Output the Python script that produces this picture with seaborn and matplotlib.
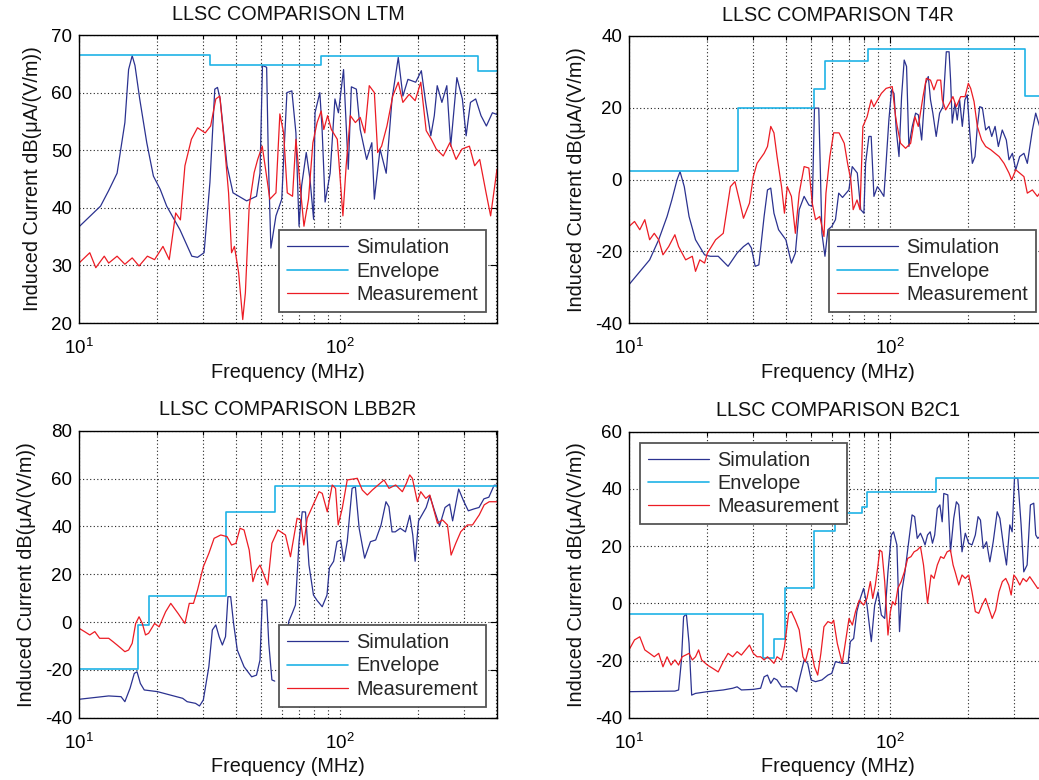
import matplotlib
matplotlib.use("Agg")
import matplotlib.pyplot as plt
import seaborn as sns
from matplotlib.ticker import FixedLocator, FixedFormatter, NullFormatter

# ---------------- data ----------------
# LTM
ltm_sim_f = [10, 11, 12.1, 13, 14, 15, 15.5, 16, 16.4, 17.1,
             18.2, 19.3, 20.5, 21.7, 24.4, 27.1, 28.5, 30.2, 31.8, 33.2,
             34, 34.8, 37, 39, 44, 48, 49.5, 50.6, 52.5, 53.3,
             54.5, 57, 60, 61, 62.8, 65.6, 68, 69.9, 71.5, 74.5,
             77, 79.5, 80.5, 84, 85.7, 88, 92, 96, 99, 103.6,
             108, 111, 116, 120, 127, 133, 136, 143, 151, 159,
             168, 175, 183, 196, 206, 214, 224, 231, 237, 247,
             258, 267, 282, 296, 306, 318, 333, 349, 366, 386,
             402]
ltm_sim_v = [36.7, 38.5, 40.3, 43, 46, 54.8, 64, 66.4, 64.7, 58.9,
             51.3, 45.5, 43.2, 40.3, 36.2, 31.6, 31.4, 32.2, 44.4, 60.6,
             60.9, 58.9, 47.3, 42.6, 41.2, 42, 46, 64.7, 64.4, 48.4,
             33, 38.6, 41.5, 48.4, 60, 60.3, 53, 36.8, 43.8, 49.6,
             45, 38, 56.5, 60, 53.6, 41, 46, 58.9, 56.5, 64,
             46.7, 61, 60.6, 53.6, 48.4, 51.3, 41.5, 50.2, 46, 58.9,
             66.1, 59.4, 62.3, 61.8, 63.8, 58.3, 52.5, 56, 61.2, 58.3,
             61.2, 50.7, 62.6, 58.9, 52.5, 58.3, 58.9, 56, 54.2, 56.5,
             56.2]
ltm_env_f = [10, 31.7, 85, 339, 402]
ltm_env_v = [66.5, 64.8, 66.3, 63.7, 63.7]
ltm_meas_f = [10, 11, 11.6, 12.5, 13, 14, 15, 16, 17, 18.3,
              19.5, 21, 22.2, 23.5, 24.5, 25.5, 27, 28.5, 30.5, 32,
              33.5, 34.7, 36, 37.5, 38.5, 39.5, 41, 42.5, 43.5, 45,
              47, 48.5, 50.5, 52, 54, 57, 59, 61, 63, 66,
              68, 71, 73, 76, 79, 82, 85, 87, 90, 93,
              98, 103, 106, 110, 115, 120, 125, 130, 136, 140,
              145, 152, 160, 168, 175, 185, 195, 205, 215, 225,
              235, 250, 265, 280, 295, 315, 330, 345, 365, 380,
              402]
ltm_meas_v = [30.4, 32.2, 29.6, 31.6, 30.4, 31.6, 30.2, 31.3, 29.9, 31.6,
              31, 33.3, 31, 39.1, 37.9, 47.3, 51.9, 53.9, 53, 54.2,
              58.9, 59.4, 51.9, 42.6, 32.2, 33.3, 28.7, 20.6, 25.2, 40.3,
              46.1, 48.4, 50.7, 46.7, 41.5, 42.6, 56.3, 53, 42.6, 42,
              51.9, 42.6, 36.8, 41.5, 51.3, 54.8, 56.8, 53.6, 56, 53.6,
              51.9, 38.6, 47.3, 56, 54.8, 55.7, 53, 61.2, 60, 49.6,
              50.7, 54.2, 59.4, 61.8, 58.3, 59.7, 58.6, 61.8, 53.4, 51.9,
              50.2, 49, 51.3, 48.4, 50.2, 50.7, 47.3, 48.4, 42.6, 38.6,
              46.7]

# T4R
t4r_sim_f = [10, 12, 13, 14, 14.6, 15.3, 15.7, 16.3, 17, 18,
             19.5, 20.5, 22, 24, 26, 27.5, 28.7, 29.5, 30.5, 31.5,
             33, 34, 35, 36, 37.5, 40, 42, 43.5, 45, 47,
             49, 50.5, 51.5, 53.5, 55, 56.5, 58, 60, 62, 63.8,
             66, 69.8, 71.9, 75.2, 77.5, 79.7, 80.9, 83.3, 85, 87.1,
             89.8, 92, 95.1, 96.6, 99.4, 101.8, 104, 106.1, 108.7, 111.2,
             113.8, 116.2, 118.6, 122.2, 125.9, 129, 132.8, 137.5, 140.8, 143.6,
             146.6, 151, 155.6, 160.3, 165.1, 169.2, 171.5, 174, 178.2, 181.9,
             185.7, 190.2, 194.6, 198.7, 202.8, 207.8, 212.8, 217.2, 221.8, 227.1,
             233.8, 240.9, 246.7, 254.1, 261.5, 270.7, 280.6, 287.3, 296.1, 305,
             315.8, 327.9, 337.8, 353.3, 363.8, 376.7, 390, 402]
t4r_sim_v = [-29.3, -22.4, -16.8, -10.3, -5.7, 0, 2.2, -2, -10.3, -16.8,
             -21, -21.4, -21.4, -24.2, -20.5, -18.7, -17.7, -19.1, -24.2, -23.8,
             -10.3, -2.9, -2.4, -9.4, -14, -16.8, -23.3, -20.5, -8.4, -4.7,
             -7.1, -7.5, 19.9, 19.9, -15, -21.4, -14, -13.1, -11.2, -3.8,
             -5, -2.9, 3.6, 1.8, -8.4, -9.4, 4.5, 12, 12, -4.7,
             -2, -3, -4.7, 2.7, 16.6, 25, 24, 13.8, 6.4, 23.1,
             33.3, 31.5, 9.2, 14.8, 18.5, 18, 11, 26.8, 28.7, 22.2,
             18.5, 12, 18.5, 20.3, 35.6, 35.6, 27.7, 15.7, 21.3, 16.6,
             22.2, 14.8, 22.2, 23.6, 13.8, 4.5, 6.4, 14.8, 20.3, 20,
             13.8, 14.8, 12, 14.8, 9.2, 13.8, 11, 5.5, 7.3, 2.7,
             6.4, 7.3, 4.5, 13.8, 18.5, 14.8, 10, 13]
t4r_env_f = [10, 26.1, 51.2, 56.6, 83, 331, 402]
t4r_env_v = [2.5, 20, 25.1, 33.1, 36.3, 23.3, 23.3]
t4r_meas_f = [10, 10.5, 11, 11.5, 12, 12.5, 13, 13.5, 14.2, 15,
              15.5, 16.5, 17.5, 18, 18.7, 19.5, 20, 21.5, 23, 24.5,
              25.5, 26.5, 27.5, 29, 30, 31, 33, 34, 35, 36,
              37, 38.5, 39.5, 40.5, 42, 43.5, 45, 47, 49, 50.5,
              52, 54, 56, 57, 59, 61, 64, 67, 69, 71,
              72.5, 75, 77, 79, 82, 85, 87, 90, 93, 97,
              102.4, 105.5, 107, 110.2, 115.2, 120.5, 125.1, 128.9, 134.4, 138.4,
              143.6, 148, 152.5, 157.1, 159.4, 164.1, 170, 175, 180.3, 187.5,
              194.8, 200.6, 204.8, 211, 217.2, 225.6, 233.8, 244.5, 254.1, 263.2,
              275, 287.3, 294.3, 305, 315.8, 327.9, 337.8, 353.3, 369.2, 376.7,
              402]
t4r_meas_v = [-13.1, -11.7, -14, -11.2, -16.8, -15, -16.8, -21, -18.7, -15.4,
              -18.7, -22.4, -21.4, -25.6, -22.4, -23.3, -20.5, -16.8, -15, -2,
              -0.6, -5.7, -10.8, -6.6, 0.8, 4.5, 7.3, 9.2, 14.8, 13,
              6.4, -2, -9.4, -2, -4.7, -15, -3.8, 3.6, 3.2, -6.6,
              -11.2, -10.3, -15.9, -3.8, 6.4, 13, 13, 10.1, 4.5, -0.1,
              -8.4, -5.7, -8.4, 14.8, 17.5, 22.2, 20.3, 22.2, 24, 25.4,
              25.9, 17.5, 14.8, 10.1, 8.7, 10.1, 17.5, 14.8, 23.1, 28.2,
              27.7, 25, 27.7, 27.7, 22.2, 19.4, 21.3, 23.1, 20.3, 23.1,
              23.1, 26.8, 25.4, 21.7, 14.8, 11, 9.2, 8.3, 7.3, 6.4,
              4.5, 1.8, -0.1, 2.7, 1.8, 0.8, -3.8, -2.9, -4.7, -3.8,
              -4.5]

# LBB2R
lbb_sim_f1 = [10, 13, 14.5, 15, 15.7, 16.3, 16.7, 17.2, 17.8, 20,
              25, 26, 28, 29, 30, 31.5, 32.5, 33.5, 34.5, 35.5,
              36.5, 37.3, 38.2, 39.2, 40.5, 43, 46, 48, 49.5, 50.5,
              52.5, 53.5, 55, 56.4]
lbb_sim_v1 = [-32.3, -30.9, -31.2, -33.3, -27.7, -21.5, -20.8, -25.7, -28.4, -29.1,
              -31.9, -33.3, -34, -35.1, -32.6, -18.7, -3.3, -1.2, -6.1, -9.6,
              -6.1, 10.6, 10.6, -0.6, -11.7, -18.7, -22.9, -22.2, -15.9, 9.2,
              9.2, -8.9, -24.2, -24.7]
lbb_sim_f2 = [62, 63.8, 66, 67.7, 69.9, 71.9, 74, 76.3, 79.4, 82,
              85.8, 89.5, 91.4, 94.9, 97.8, 101, 103.9, 107, 111.7, 115,
              118.9, 124.8, 131.4, 137.6, 144.3, 150.7, 154.7, 159, 163.5, 171,
              179, 186, 191, 195, 201, 215, 222, 231.5, 242, 254,
              264.5, 271.6, 286.5, 299, 312, 328, 343, 358, 374, 392,
              402]
lbb_sim_v2 = [-15, 0.2, 4, 7.1, 33.6, 46.1, 46, 23.9, 11.3, 9,
              6.4, 11.3, 22.6, 25.4, 33.6, 34.3, 25.4, 33.6, 55.9, 56.6,
              39.2, 26.7, 33.6, 34.3, 40.6, 50.3, 48.2, 37.7, 37.7, 39.2,
              37.7, 44.6, 36.3, 25.4, 42.3, 47.9, 52.8, 46.5, 40.2, 47.9,
              49.3, 42.3, 55.6, 50.7, 46.5, 47.3, 47.9, 51.5, 52.2, 57.2,
              57.2]
lbb_env_f = [10, 16.9, 18.5, 36.5, 56.6, 402]
lbb_env_v = [-19.8, -1.25, 11, 46.1, 56.9, 56.9]
lbb_meas_f = [10, 10.5, 11, 11.5, 12, 13, 13.5, 14, 14.5, 15,
              15.5, 16, 16.5, 17, 17.5, 18, 18.5, 19.5, 20.3, 21.5,
              22.5, 24, 25.5, 26.5, 27.5, 28.5, 30, 31.5, 33, 35,
              37, 38.5, 40, 41.5, 43, 45, 46.5, 48, 49.5, 51,
              53, 55, 58, 62, 64.8, 68.7, 70.8, 72.9, 75.1, 78.6,
              83.4, 85.8, 89.7, 93.7, 96.5, 98.8, 102.4, 107, 117, 122.2,
              127.8, 133.6, 148.1, 154.8, 164.2, 174.2, 180.5, 185.9, 190.3, 198.9,
              204.9, 214.2, 222, 237.5, 248.3, 259.5, 268, 279.4, 292, 309.7,
              323.8, 343.6, 359, 375.3, 402]
lbb_meas_v = [-2.6, -4, -5.4, -4, -6.8, -6.8, -8.2, -9.6, -11, -12.4,
              -11.7, -8.9, -0.6, 2.2, -0.6, -5.4, -4.7, -0.6, -2, 4.3,
              7.8, 3.6, -0.6, 7.8, 7.8, 13.4, 23.1, 28.7, 35, 36.4,
              35.7, 32.2, 32.9, 39.2, 38.5, 30.1, 16.9, 21.7, 23.8, 20.3,
              15.5, 32.9, 38.5, 36.4, 27.3, 43.4, 42.7, 32.2, 43.4, 48.2,
              54.5, 53.8, 46.1, 57.3, 55.9, 40.6, 47.5, 59.4, 60.1, 55.2,
              53.1, 55.2, 59.4, 55.9, 57.3, 54.5, 58, 61.5, 60.1, 50.3,
              54.5, 51.7, 53.1, 41.3, 42.7, 40.6, 28, 33, 37.8, 40.6,
              40.6, 44.8, 49, 50.3, 50.3]

# B2C1
b2c_sim_f = [10, 15, 15.5, 15.9, 16.2, 16.6, 17, 17.4, 18, 20,
             23, 25, 26, 27, 30, 32, 33, 34, 35, 36,
             37, 38.5, 42, 44, 45, 47, 48.5, 50, 52, 55,
             58, 60, 62, 65.8, 69.3, 70.7, 72.8, 74.9, 77.2, 79.5,
             81.9, 85.1, 87.7, 90.3, 93, 95.8, 98.6, 101.6, 103.6, 106.7,
             109.2, 111.4, 114.6, 118, 122, 124.8, 127.7, 131.4, 134, 136.8,
             139.9, 143.2, 146.1, 149, 152.5, 156, 159.2, 161.5, 167.3, 171.3,
             176.3, 180.5, 184.3, 189.7, 195.3, 201.2, 207.2, 213.4, 218.6, 223.3,
             228.8, 235.6, 242.6, 249.9, 258.9, 265.1, 274.5, 281, 289.4, 295.4,
             301.6, 310.6, 319.8, 327.4, 337.2, 347.2, 357.6, 364, 370.4, 385,
             402]
b2c_sim_v = [-30.9, -30.7, -30.3, -19.8, -4.7, -3.75, -14, -32.1, -31.5, -30.9,
             -30.3, -29.7, -29.2, -30.3, -30.1, -29.7, -25.7, -25.1, -28, -26.2,
             -26.8, -29.2, -29.2, -30.9, -26.8, -19.8, -21, -26.8, -27.4, -26.8,
             -25.1, -24.5, -20.4, -21, -21, -13.4, -12.3, -2.9, 1.7, 5.2,
             -0.6, -13.4, -0.6, 4, -4.1, -5.3, 11, 23.9, 25, 20.4,
             -9.9, 4, 11, 20.4, 30.9, 30.3, 22.7, 24.5, 22.7, 20.4,
             23.9, 25, 21, 23.9, 33.2, 34.4, 28.5, 38.4, 37.9, 18,
             29.7, 35.5, 34.4, 18, 24.5, 21, 20.4, 23.9, 30.3, 29.1,
             19.2, 21.5, 14.5, 21.5, 32, 29.7, 19.2, 13.4, 27.4, 25,
             43.7, 43.7, 27.4, 11, 13.4, 34.4, 35, 23.9, 22.7, 24,
             24]
b2c_env_f = [10, 32.6, 36.1, 39.7, 51.5, 61.5, 78.5, 82, 151, 402]
b2c_env_v = [-3.75, -19, -12.6, 5.2, 25.4, 31.4, 33.5, 38.8, 43.9, 43.9]
b2c_meas_f = [10, 10.5, 11, 11.5, 12, 12.5, 13, 13.5, 14, 14.5,
              15, 15.5, 16, 17, 17.5, 18, 18.5, 19, 20, 21,
              22, 23, 24, 25, 26, 27, 28, 29, 30, 31,
              32, 33, 34, 35, 36, 37, 38.5, 39.5, 41, 42,
              43.5, 45, 46.5, 47.5, 49, 50, 51.5, 53, 54.5, 56,
              58, 60, 61, 63, 65.8, 69.9, 72, 74, 76.5, 79.5,
              81.9, 84.4, 86.2, 88.2, 90.3, 91.7, 93.5, 95.8, 97.2, 98.6,
              100.7, 102.7, 105.1, 107.6, 110.8, 114, 117.4, 120.8, 124.2, 127.7,
              131.4, 135, 139.9, 144.3, 148.1, 152.5, 157.1, 161.5, 166.3, 171.3,
              175.3, 178.5, 184.3, 189.7, 195.3, 201.2, 207.2, 213.4, 219.9, 226.6,
              233.5, 240.5, 247.7, 255.3, 263, 271, 279.2, 286.7, 292.9, 299.9,
              306.9, 316.1, 325.5, 335.2, 345.2, 355.5, 370.4, 385, 402]
b2c_meas_v = [-16.3, -12.8, -11.7, -16.3, -17.5, -18.7, -17.5, -22.2, -18.7, -21.6,
              -19.8, -21.6, -18.7, -17.5, -19.8, -18.7, -16.3, -19.8, -21.6, -22.8,
              -24, -20.4, -17.5, -18.7, -16.9, -18.1, -16.3, -14.6, -17.5, -18.7,
              -18.7, -19.8, -18.7, -19.8, -21, -18.7, -19.8, -15.2, -3.5, -2.9,
              -5.9, -9.3, -18.7, -20.4, -15.8, -16.3, -22.2, -25.1, -17.5, -8.2,
              -6.4, -7, -5.9, -14, -21, -5.3, -7.6, -2.9, 1.1, -0.6,
              1.7, 7.6, 1.7, 6.4, 13.4, 18.6, 18, 7.6, -1.8, -11.1,
              -2.9, 0.6, -0.6, 5.2, 7.6, 11, 15.7, 16.3, 18, 18.6,
              19.8, 13.4, 0, 9.9, 8.7, 13.4, 16.3, 15.7, 18, 18.6,
              13.4, 11, 6.4, 9.9, 8.7, 9.9, 4, -2.9, -3.5, -0.6,
              1.7, -1.8, -5.3, -2.4, 4, 7.6, 8.7, 6.4, 2.9, 9.9,
              8.7, 6.4, 8.7, 7.6, 9.3, 7.6, 5.2, 6, 4]

titles = ["LLSC COMPARISON LTM", "LLSC COMPARISON T4R",
          "LLSC COMPARISON LBB2R", "LLSC COMPARISON B2C1"]
series_names = ["Simulation", "Envelope", "Measurement"]
x_major = [10, 100]
x_major_labels = [r"$\mathregular{10^{1}}$", r"$\mathregular{10^{2}}$"]
x_minor = [20, 30, 40, 50, 60, 70, 80, 90, 200, 300, 400]

# ---------------- style ----------------
sns.set_theme(style="white")
plt.rcParams["font.family"] = ["Liberation Sans", "DejaVu Sans"]
plt.rcParams["axes.unicode_minus"] = False
plt.rcParams["mathtext.fontset"] = "custom"
plt.rcParams["mathtext.rm"] = "Liberation Sans"

SIM_C = "#2b3290"
ENV_C = "#1fb3e6"
MEAS_C = "#ec1c24"

fig = plt.figure(figsize=(10.39, 7.80), dpi=100)

positions = [
    [79 / 1039, 1 - 323 / 780, 418 / 1039, 288 / 780],
    [629 / 1039, 1 - 323 / 780, 418 / 1039, 287 / 780],
    [79 / 1039, 1 - 717.7 / 780, 418 / 1039, 287 / 780],
    [629 / 1039, 1 - 717.7 / 780, 418 / 1039, 286 / 780],
]

panels = [
    dict(sims=[(ltm_sim_f, ltm_sim_v)], env=(ltm_env_f, ltm_env_v),
         meas=(ltm_meas_f, ltm_meas_v), ylim=(20, 70),
         yticks=[20, 30, 40, 50, 60, 70], loc="lower right"),
    dict(sims=[(t4r_sim_f, t4r_sim_v)], env=(t4r_env_f, t4r_env_v),
         meas=(t4r_meas_f, t4r_meas_v), ylim=(-40, 40),
         yticks=[-40, -20, 0, 20, 40], loc="lower right"),
    dict(sims=[(lbb_sim_f1, lbb_sim_v1), (lbb_sim_f2, lbb_sim_v2)],
         env=(lbb_env_f, lbb_env_v), meas=(lbb_meas_f, lbb_meas_v),
         ylim=(-40, 80), yticks=[-40, -20, 0, 20, 40, 60, 80],
         loc="lower right"),
    dict(sims=[(b2c_sim_f, b2c_sim_v)], env=(b2c_env_f, b2c_env_v),
         meas=(b2c_meas_f, b2c_meas_v), ylim=(-40, 60),
         yticks=[-40, -20, 0, 20, 40, 60], loc="upper left"),
]

for pos, title, p in zip(positions, titles, panels):
    ax = fig.add_axes(pos)
    ax.set_xscale("log")
    ax.set_axisbelow(True)
    for i, (f, v) in enumerate(p["sims"]):
        sns.lineplot(x=f, y=v, ax=ax, color=SIM_C, lw=0.9, estimator=None,
                     sort=False, label=series_names[0] if i == 0 else "_nolegend_")
    sns.lineplot(x=p["env"][0], y=p["env"][1], ax=ax, color=ENV_C, lw=1.2,
                 estimator=None, sort=False, drawstyle="steps-post",
                 label=series_names[1])
    sns.lineplot(x=p["meas"][0], y=p["meas"][1], ax=ax, color=MEAS_C, lw=0.9,
                 estimator=None, sort=False, label=series_names[2])

    ax.set_xlim(10, 402)
    ax.set_ylim(*p["ylim"])
    ax.xaxis.set_major_locator(FixedLocator(x_major))
    ax.xaxis.set_major_formatter(FixedFormatter(x_major_labels))
    ax.xaxis.set_minor_locator(FixedLocator(x_minor))
    ax.xaxis.set_minor_formatter(NullFormatter())
    ax.set_yticks(p["yticks"])
    ax.set_yticklabels([str(t) for t in p["yticks"]])

    ax.grid(True, which="major", axis="both", color="#222222",
            linestyle=(0, (1, 2.2)), linewidth=0.8)
    ax.grid(True, which="minor", axis="x", color="#222222",
            linestyle=(0, (1, 2.2)), linewidth=0.8)
    ax.tick_params(which="both", direction="in", top=True, right=True,
                   colors="black", labelsize=13.5)
    ax.tick_params(which="major", length=5, width=0.8)
    ax.tick_params(which="minor", length=3, width=0.8)
    ax.tick_params(axis="x", pad=11)
    ax.tick_params(axis="y", pad=5)
    for s in ax.spines.values():
        s.set_color("black")
        s.set_linewidth(1.0)

    ax.set_title(title, fontsize=14.3, pad=11, color="#111111")
    ax.set_xlabel("Frequency (MHz)", fontsize=14.3, color="#111111", labelpad=3)
    ax.set_ylabel("Induced Current dB(\u03bcA/(V/m))", fontsize=14.3,
                  color="#111111", labelpad=6.5)

    handles, labels = ax.get_legend_handles_labels()
    order = [labels.index(n) for n in series_names]
    leg = ax.legend([handles[i] for i in order], series_names, loc=p["loc"],
                    fontsize=14.3, frameon=True, fancybox=False, framealpha=1,
                    edgecolor="#555555", handlelength=3.1, handletextpad=0.4,
                    labelspacing=0.22, borderpad=0.4, borderaxespad=0.55)
    leg.get_frame().set_linewidth(1.3)

fig.savefig("out.png", dpi=100)
